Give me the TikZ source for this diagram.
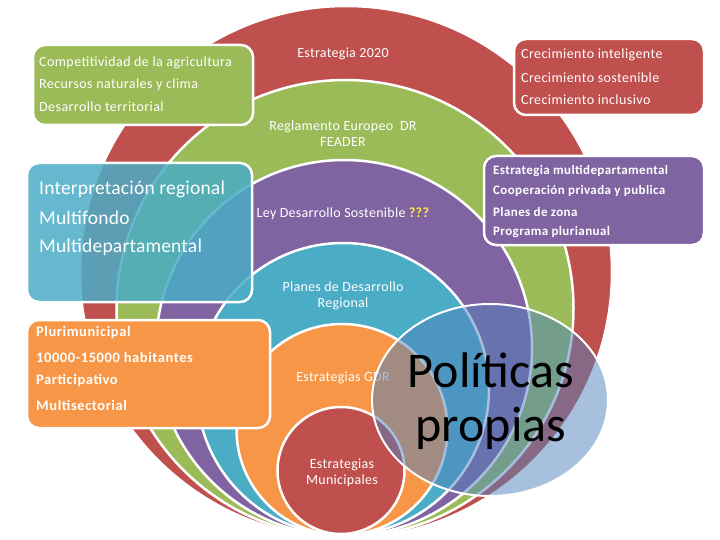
\documentclass[tikz,border=0pt]{standalone}
\usepackage{fontspec}
\setmainfont{Carlito}
\usepackage{tikz}

\definecolor{accred}{HTML}{C0504D}
\definecolor{accgreen}{HTML}{9BBB59}
\definecolor{accpurple}{HTML}{8064A2}
\definecolor{acccyan}{HTML}{4BACC6}
\definecolor{accorange}{HTML}{F79646}
\definecolor{accblue}{HTML}{4F81BD}
\definecolor{qyellow}{HTML}{FFEE3A}

\tikzset{
	ring/.style={draw=white, line width=2.5pt},
	ringlabel/.style={text=white, align=center, font=\fontsize{14}{16}\selectfont\addfontfeatures{LetterSpace=2}},
	callout/.style={draw=white, line width=2.5pt, rounded corners=12pt},
	lineitem/.style={text=white, anchor=west, inner sep=0pt},
	itemsmall/.style={lineitem, font=\fontsize{14}{16}\selectfont\addfontfeatures{LetterSpace=3}},
	itemlarge/.style={lineitem, font=\fontsize{19.5}{22}\selectfont\addfontfeatures{LetterSpace=1}},
	itemnarrow/.style={lineitem, font=\bfseries\fontsize{13}{15}\selectfont\addfontfeatures{LetterSpace=3}},
	itembold/.style={lineitem, font=\bfseries\fontsize{14.5}{16}\selectfont\addfontfeatures{LetterSpace=4}},
}

\begin{document}
\begin{tikzpicture}[x=1pt, y=-1pt]
		\useasboundingbox (0,0) rectangle (720,540);
		\coordinate (Oa) at (346,272);
		\coordinate (Ob) at (345,308.5);
		\coordinate (Oc) at (344,348);
		\coordinate (Od) at (343,389);
		\coordinate (Oe) at (342,429.5);
		\coordinate (Of) at (341,470.5);
		\coordinate (P) at (490,400);
		
		% nested circles
		\filldraw[ring, fill=accred] (Oa) circle[radius=266pt];
		\filldraw[ring, fill=accgreen] (Ob) circle[radius=228.5pt];
		\filldraw[ring, fill=accpurple] (Oc) circle[radius=188pt];
		\filldraw[ring, fill=acccyan] (Od) circle[radius=146pt];
		\filldraw[ring, fill=accorange] (Oe) circle[radius=105.5pt];
		\filldraw[ring, fill=accred] (Of) circle[radius=63.5pt];
		
		\node[ringlabel] (estrategia) at (343,54) {Estrategia 2020};
		\node[ringlabel] (reglamento) at (343,134) {Reglamento Europeo~ DR\\FEADER};
		\node[ringlabel] (ley) at (343,214) {Ley Desarrollo Sostenible \textcolor{qyellow}{\textbf{???}}};
		\node[ringlabel] (planes) at (343,296) {Planes de Desarrollo\\Regional};
		\node[ringlabel] (gdr) at (343,378) {Estrategias GDR};
		\node[ringlabel] (municipales) at (342,473) {Estrategias\\Municipales};
		
		% own policies
		\filldraw[draw=white, line width=2pt, fill=accblue, fill opacity=0.5] (P) ellipse[x radius=118pt, y radius=96pt];
		\node[align=center, font=\fontsize{50}{54}\selectfont] (politicas) at (491,401) {Políticas\\propias};
		
		% callouts
		\filldraw[callout, fill=accgreen] (33,45) rectangle (253,125);
		\node[itemsmall] (agri) at (39,63) {Competitividad de la agricultura};
		\node[itemsmall] (clima) at (39,85) {Recursos naturales y clima};
		\node[itemsmall] (territorial) at (39,107) {Desarrollo territorial};
		
		\filldraw[callout, fill=accred] (514,39) rectangle (704,115);
		\node[itemsmall] (inteligente) at (521,55) {Crecimiento inteligente};
		\node[itemsmall] (sostenible) at (521,78) {Crecimiento sostenible};
		\node[itemsmall] (inclusivo) at (521,100) {Crecimiento inclusivo};
		
		\filldraw[callout, fill=acccyan, fill opacity=0.85] (27,163) rectangle (252,302);
		\node[itemlarge] (regional) at (39,189) {Interpretación regional};
		\node[itemlarge] (multifondo) at (39,218) {Multifondo};
		\node[itemlarge] (multidep) at (39,247) {Multidepartamental};
		
		\filldraw[callout, fill=accpurple] (484,156) rectangle (704,245);
		\node[itemnarrow] (estmulti) at (493,171) {Estrategia multidepartamental};
		\node[itemnarrow] (cooperacion) at (493,191) {Cooperación privada y publica};
		\node[itemnarrow] (zona) at (493,212) {Planes de zona};
		\node[itemnarrow] (plurianual) at (493,232) {Programa plurianual};
		
		\filldraw[callout, fill=accorange] (27,320) rectangle (270,428);
		\node[itembold] (pluri) at (36,333) {Plurimunicipal};
		\node[itembold] (habitantes) at (36,357) {10000-15000 habitantes};
		\node[itembold] (participativo) at (36,381) {Participativo};
		\node[itembold] (multisect) at (36,405) {Multisectorial};
\end{tikzpicture}
\end{document}
